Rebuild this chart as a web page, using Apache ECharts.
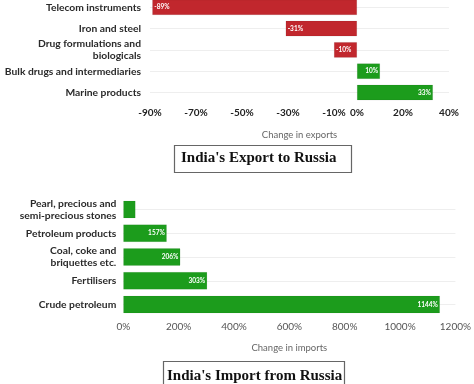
<!DOCTYPE html>
<html>
<head>
<meta charset="utf-8">
<script src="https://cdn.jsdelivr.net/npm/echarts@6/dist/echarts.min.js"></script>
<style>
html,body{margin:0;padding:0;background:#fff;}
#c{width:474px;height:384px;}
</style>
</head>
<body>
<div id="c"></div>
<script>
// ---- data ----
var exportCategories = ['Telecom instruments', 'Iron and steel', 'Drug formulations and\nbiologicals', 'Bulk drugs and intermediaries', 'Marine products'];
var exportValues = [-89, -31, -10, 10, 33];
var exportLabels = ['-89%', '-31%', '-10%', '10%', '33%'];
var exportTicks = [-90, -70, -50, -30, -10, 0, 20, 40];

var importCategories = ['Pearl, precious and\nsemi-precious stones', 'Petroleum products', 'Coal, coke and\nbriquettes etc.', 'Fertilisers', 'Crude petroleum'];
var importValues = [44, 157, 206, 303, 1144];
var importLabels = ['', '157%', '206%', '303%', '1144%'];

var exportTitle = "India's Export to Russia";
var importTitle = "India's Import from Russia";

var RED = '#c1272d', GREEN = '#1c9c1c';
var SANS = 'Lato';

var chart = echarts.init(document.getElementById('c'));

var exportData = exportValues.map(function (v, i) {
  return {
    value: v,
    itemStyle: { color: v < 0 ? RED : GREEN },
    label: { position: v < 0 ? 'insideLeft' : 'insideRight', formatter: exportLabels[i] }
  };
});
var importData = importValues.map(function (v, i) {
  return { value: v, label: { show: importLabels[i] !== '', formatter: importLabels[i] } };
});

chart.setOption({
  animation: false,
  grid: [
    { left: 150, right: 25, top: 7.3, bottom: 291.5 },
    { left: 123.3, right: 16, top: 209.5, bottom: 79.5 }
  ],
  xAxis: [
    {
      gridIndex: 0, type: 'value', min: -90, max: 40, interval: 10,
      axisLine: { show: false }, axisTick: { show: false }, splitLine: { show: false },
      axisLabel: {
        margin: 15, color: '#222', fontFamily: SANS, fontWeight: 'bold', fontSize: 10,
        formatter: function (v) { return exportTicks.indexOf(v) >= 0 ? v + '%' : ''; }
      },
      name: 'Change in exports', nameLocation: 'middle', nameGap: 37,
      nameTextStyle: { color: '#666', fontFamily: SANS, fontSize: 9.5 }
    },
    {
      gridIndex: 1, type: 'value', min: 0, max: 1200, interval: 200,
      axisLine: { show: false }, axisTick: { show: false }, splitLine: { show: false },
      axisLabel: {
        margin: 17, color: '#555', fontFamily: SANS, fontSize: 10,
        formatter: function (v) { return String(v) + '%'; }
      },
      name: 'Change in imports', nameLocation: 'middle', nameGap: 38,
      nameTextStyle: { color: '#666', fontFamily: SANS, fontSize: 9.5 }
    }
  ],
  yAxis: [
    {
      gridIndex: 0, type: 'category', data: exportCategories, inverse: true, boundaryGap: false,
      axisLine: { show: false }, axisTick: { show: false },
      splitLine: { show: true, lineStyle: { color: '#eeeeee', width: 1 } },
      axisLabel: { margin: 9, color: '#2a2a2a', fontFamily: SANS, fontWeight: 'bold', fontSize: 10.3, lineHeight: 12 }
    },
    {
      gridIndex: 1, type: 'category', data: importCategories, inverse: true, boundaryGap: false,
      axisLine: { show: false }, axisTick: { show: false },
      splitLine: { show: true, lineStyle: { color: '#eeeeee', width: 1 } },
      axisLabel: { margin: 7, color: '#2a2a2a', fontFamily: SANS, fontWeight: 'bold', fontSize: 10.3, lineHeight: 12 }
    }
  ],
  series: [
    {
      type: 'bar', xAxisIndex: 0, yAxisIndex: 0, barWidth: 15.5, data: exportData,
      itemStyle: { borderColor: 'rgba(0,0,0,0.15)', borderWidth: 0.5 },
      label: { show: true, color: '#fff', fontFamily: SANS, fontWeight: 'bold', fontSize: 6.5, distance: 2 }
    },
    {
      type: 'bar', xAxisIndex: 1, yAxisIndex: 1, barWidth: 17.5, data: importData,
      itemStyle: { color: GREEN, borderColor: 'rgba(0,0,0,0.1)', borderWidth: 0.5 },
      label: { show: true, position: 'insideRight', color: '#fff', fontFamily: SANS, fontWeight: 'bold', fontSize: 6.5, distance: 2 }
    }
  ],
  graphic: [
    { type: 'rect', shape: { x: 174.5, y: 145.5, width: 177, height: 27 }, style: { fill: '#fff', stroke: '#666', lineWidth: 1.2 } },
    { type: 'text', x: 181, y: 158, style: { text: exportTitle, font: 'bold 15px "Liberation Serif"', fill: '#111', verticalAlign: 'middle' } },
    { type: 'rect', shape: { x: 163.5, y: 361.5, width: 181, height: 40 }, style: { fill: '#fff', stroke: '#666', lineWidth: 1.2 } },
    { type: 'text', x: 167, y: 376, style: { text: importTitle, font: 'bold 15px "Liberation Serif"', fill: '#111', verticalAlign: 'middle' } }
  ]
});
</script>
</body>
</html>
